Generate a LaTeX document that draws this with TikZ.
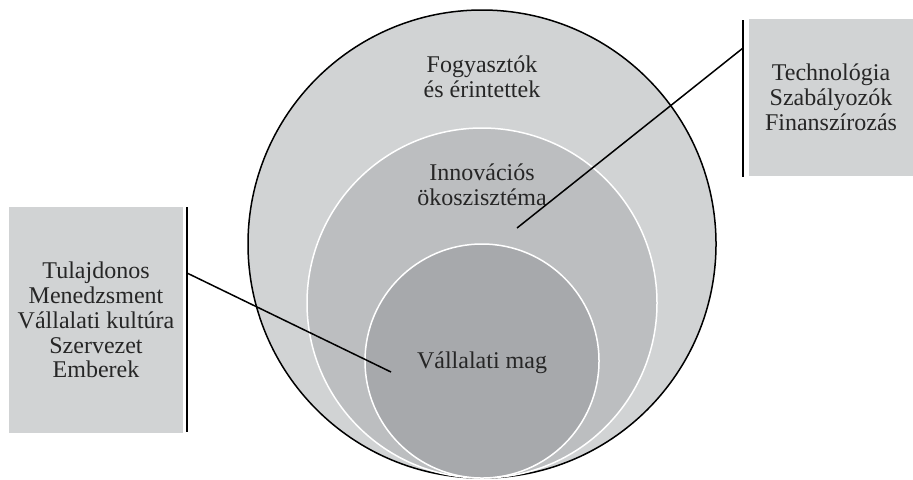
\documentclass[tikz,border=0pt]{standalone}
\usepackage{fontspec}
\setmainfont{Liberation Serif}
\usepackage{xcolor}
\usetikzlibrary{positioning,calc}
\definecolor{g20}{HTML}{D1D3D4}
\definecolor{g30}{HTML}{BCBEC0}
\definecolor{g40}{HTML}{A7A9AC}

\begin{document}
\begin{tikzpicture}[x=0.5pt,y=-0.5pt,font=\fontsize{12}{12.4}\selectfont,
   bx/.style={fill=g20,inner sep=0pt,align=center,text=black!85},
   lb/.style={align=center,inner sep=0pt,text=black!85},
   bar/.style={line width=0.8pt}]
  \useasboundingbox (0,0) rectangle (913,479);
  % circles
  \fill[g20,draw=black,line width=0.75pt] (482,244) circle (117pt);
  \fill[g30,draw=white,line width=0.75pt] (482,303) circle (87.5pt);
  \fill[g40,draw=white,line width=0.75pt] (482,361) circle (58.5pt);
  \node[lb] (c1) at (482,77) {Fogyasztók\\és érintettek};
  \node[lb] (c2) at (482,185) {Innovációs\\ökoszisztéma};
  \node[lb] (c3) at (482,363) {Vállalati mag};
  % side boxes
  \node[bx,minimum width=82pt,minimum height=78.5pt] (ext) at (831,97.5)
    {Technológia\\Szabályozók\\Finanszírozás};
  \node[bx,minimum width=87pt,minimum height=113pt] (int) at (96,320)
    {Tulajdonos\\Menedzsment\\Vállalati kultúra\\Szervezet\\Emberek};
  \coordinate (et) at (743,20); \coordinate (eb) at (743,177);
  \coordinate (it) at (187,207); \coordinate (ib) at (187,432);
  \draw[bar] (et)--(eb); \draw[bar] (it)--(ib);
  % pointers
  \coordinate (p2) at (517,228); \coordinate (p3) at (391,372);
  \coordinate (e1) at (743,48); \coordinate (i1) at (187,273);
  \draw[line width=0.75pt] (p2)--(e1);
  \draw[line width=0.75pt] (p3)--(i1);
\end{tikzpicture}
\end{document}
